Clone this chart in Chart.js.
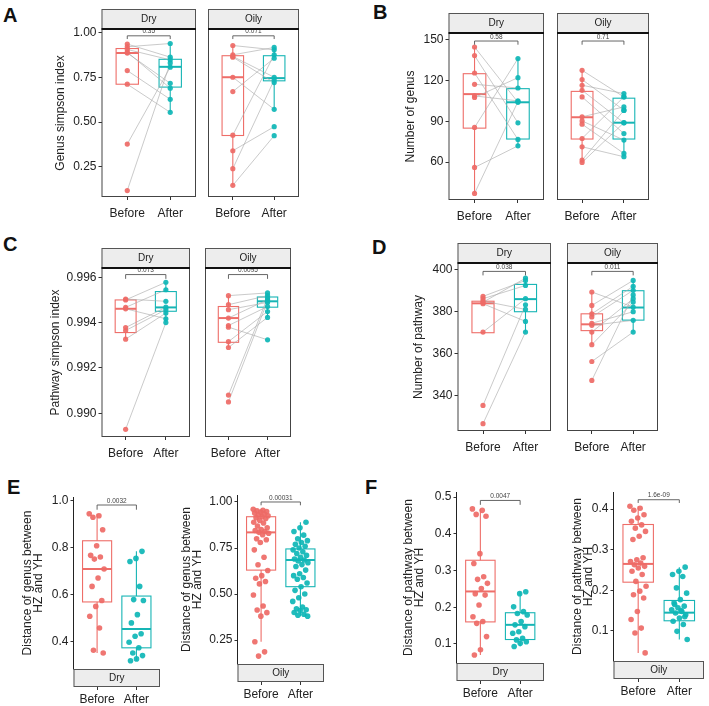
<!DOCTYPE html>
<html>
<head>
<meta charset="utf-8">
<script src="https://cdn.jsdelivr.net/npm/chart.js@4.4.1/dist/chart.umd.min.js"></script>
<style>
body { margin: 0; background: #fff; }
#fig { position: relative; width: 709px; height: 706px; overflow: hidden; font-family: "Liberation Sans", Arial, sans-serif; }
#fig canvas { position: absolute; }
.tag { position: absolute; font-weight: bold; font-size: 20px; line-height: 1; color: #111; }
</style>
</head>
<body>
<div id="fig">
  <div class="tag" style="left:3px;top:5px">A</div>
  <div class="tag" style="left:373px;top:2px">B</div>
  <div class="tag" style="left:3px;top:234px">C</div>
  <div class="tag" style="left:372px;top:237px">D</div>
  <div class="tag" style="left:7px;top:477px">E</div>
  <div class="tag" style="left:365px;top:477px">F</div>
</div>
<script>
const groups = ['Before', 'After'];

// A - genus simpson index, paired samples
const aDryBefore  = [0.935, 0.92, 0.905, 0.89, 0.885, 0.787, 0.711, 0.377, 0.118];
const aDryAfter   = [0.862, 0.938, 0.847, 0.689, 0.716, 0.627, 0.554, 0.806, 0.830];
const aOilyBefore = [0.927, 0.875, 0.866, 0.862, 0.75, 0.67, 0.427, 0.34, 0.24, 0.147];
const aOilyAfter  = [0.903, 0.916, 0.75, 0.72, 0.571, 0.856, 0.875, 0.474, 0.735, 0.424];
const aDryBox  = [[0.711, 0.711, 0.885, 0.91, 0.935], [0.554, 0.695, 0.808, 0.85, 0.938]];
const aOilyBox = [[0.147, 0.425, 0.75, 0.87, 0.927], [0.571, 0.73, 0.745, 0.87, 0.916]];
const aTicks = [0.25, 0.5, 0.75, 1.0];
const aTickLabels = ['0.25', '0.50', '0.75', '1.00'];

// B - number of genus
const bDryBefore  = [144.6, 138.3, 125.5, 117.2, 108.7, 107.5, 85.5, 56.1, 37.0];
const bDryAfter   = [104, 88.9, 76.7, 114.5, 105, 122.1, 136.1, 72, 104.5];
const bOilyBefore = [127.5, 120.7, 116.5, 112.8, 107.9, 93.3, 90.3, 87.9, 77.4, 71.3, 61.5, 59.8];
const bOilyAfter  = [107.9, 98.2, 110.4, 88.9, 81, 100.6, 76.2, 66.4, 108, 64, 98, 89];
const bDryBox  = [[37, 85, 110, 125, 144.6], [72, 77, 104, 114, 136.1]];
const bOilyBox = [[59.8, 77, 93, 112, 127.5], [64, 77, 89, 107, 110.4]];
const bTicks = [60, 90, 120, 150];
const bTickLabels = ['60', '90', '120', '150'];

// C - pathway simpson index
const cDryBefore  = [0.99504, 0.99500, 0.99467, 0.99461, 0.99378, 0.99365, 0.99327, 0.98929];
const cDryAfter   = [0.99494, 0.99578, 0.99545, 0.99417, 0.99468, 0.99457, 0.99442, 0.99400];
const cOilyBefore = [0.99519, 0.99479, 0.99457, 0.99420, 0.99387, 0.99380, 0.99316, 0.99290, 0.99080, 0.99050];
const cOilyAfter  = [0.99531, 0.99519, 0.99489, 0.99501, 0.99471, 0.99324, 0.99449, 0.99423, 0.99510, 0.99495];
const cDryBox  = [[0.99327, 0.99356, 0.99461, 0.99500, 0.99504], [0.99400, 0.99450, 0.99467, 0.99537, 0.99578]];
const cOilyBox = [[0.99290, 0.99313, 0.99420, 0.99471, 0.99519], [0.99423, 0.99468, 0.99494, 0.99513, 0.99531]];
const cTicks = [0.990, 0.992, 0.994, 0.996];
const cTickLabels = ['0.990', '0.992', '0.994', '0.996'];

// D - number of pathway
const dDryBefore  = [387.3, 386.2, 385.1, 383.8, 384.5, 370.3, 335.4, 326.7];
const dDryAfter   = [394.9, 392.5, 381.1, 375.4, 396, 386.2, 383.3, 370.3];
const dOilyBefore = [389.4, 383, 379, 377.5, 373.5, 370.3, 364.3, 356.3, 347.3, 374.5];
const dOilyAfter  = [382.2, 394.9, 392.1, 390.2, 375.9, 386.2, 384.6, 370.3, 388, 380];
const dDryBox  = [[370, 370, 384, 385, 387.3], [370.3, 380, 386, 393, 396]];
const dOilyBox = [[364.3, 371, 374, 379, 389.4], [370.3, 376, 382, 390, 394.9]];
const dTicks = [340, 360, 380, 400];
const dTickLabels = ['340', '360', '380', '400'];

// E - distance of genus between HZ and YH
const eDryBefore = [0.945, 0.936, 0.93, 0.877, 0.809, 0.768, 0.761, 0.752, 0.71, 0.672, 0.636, 0.576, 0.551, 0.509, 0.459, 0.365, 0.353];
const eDryAfter  = [0.785, 0.755, 0.742, 0.636, 0.58, 0.576, 0.516, 0.481, 0.435, 0.424, 0.399, 0.375, 0.353, 0.342, 0.328, 0.32];
const eOilyBefore = [0.96, 0.955, 0.952, 0.948, 0.945, 0.94, 0.935, 0.93, 0.925, 0.92, 0.915, 0.91, 0.9, 0.89, 0.886, 0.87, 0.86, 0.85, 0.845, 0.84, 0.835, 0.83, 0.822, 0.8, 0.795, 0.78, 0.74, 0.70, 0.659, 0.628, 0.6, 0.586, 0.568, 0.555, 0.495, 0.435, 0.413, 0.399, 0.38, 0.241, 0.186, 0.163];
const eOilyAfter  = [0.89, 0.86, 0.84, 0.82, 0.80, 0.79, 0.78, 0.77, 0.76, 0.75, 0.74, 0.73, 0.72, 0.71, 0.70, 0.69, 0.685, 0.68, 0.67, 0.66, 0.65, 0.63, 0.61, 0.60, 0.59, 0.58, 0.56, 0.54, 0.52, 0.50, 0.48, 0.46, 0.43, 0.42, 0.415, 0.41, 0.40, 0.39, 0.385, 0.38];
const eDryBox  = [[0.353, 0.57, 0.71, 0.83, 0.945], [0.32, 0.375, 0.455, 0.595, 0.785]];
const eOilyBox = [[0.241, 0.63, 0.835, 0.92, 0.96], [0.38, 0.54, 0.685, 0.745, 0.89]];
const eDryTicks = [0.4, 0.6, 0.8, 1.0];
const eDryTickLabels = ['0.4', '0.6', '0.8', '1.0'];
const eOilyTicks = [0.25, 0.5, 0.75, 1.0];
const eOilyTickLabels = ['0.25', '0.50', '0.75', '1.00'];

// F - distance of pathway between HZ and YH
const fDryBefore = [0.468, 0.464, 0.453, 0.448, 0.346, 0.319, 0.283, 0.276, 0.265, 0.251, 0.237, 0.233, 0.206, 0.174, 0.161, 0.156, 0.12, 0.084, 0.07];
const fDryAfter  = [0.242, 0.237, 0.201, 0.188, 0.183, 0.179, 0.161, 0.152, 0.147, 0.133, 0.129, 0.115, 0.111, 0.106, 0.102, 0.093];
const fOilyBefore = [0.407, 0.402, 0.397, 0.386, 0.378, 0.37, 0.361, 0.353, 0.345, 0.333, 0.325, 0.28, 0.275, 0.271, 0.267, 0.263, 0.259, 0.255, 0.247, 0.239, 0.222, 0.21, 0.198, 0.189, 0.181, 0.148, 0.128, 0.107, 0.095, 0.046];
const fOilyAfter  = [0.257, 0.247, 0.239, 0.234, 0.206, 0.193, 0.177, 0.169, 0.161, 0.157, 0.152, 0.148, 0.144, 0.14, 0.132, 0.124, 0.116, 0.099, 0.079, 0.15, 0.165, 0.135];
const fDryBox  = [[0.07, 0.16, 0.243, 0.328, 0.468], [0.093, 0.112, 0.152, 0.185, 0.242]];
const fOilyBox = [[0.046, 0.22, 0.265, 0.362, 0.407], [0.079, 0.125, 0.145, 0.175, 0.257]];
const fDryTicks = [0.1, 0.2, 0.3, 0.4, 0.5];
const fDryTickLabels = ['0.1', '0.2', '0.3', '0.4', '0.5'];
const fOilyTicks = [0.1, 0.2, 0.3, 0.4];
const fOilyTickLabels = ['0.1', '0.2', '0.3', '0.4'];

const RED = 'rgba(238,106,102,0.92)';
const TEAL = 'rgba(14,182,182,0.92)';
const boxColors = ['#EE6E69', '#17B5B5'];
const FONT = '"Liberation Sans", Arial, sans-serif';
Chart.defaults.font.family = FONT;
Chart.defaults.animation = false;

const eTitle = ['Distance of genus between', 'HZ and YH'];
const fTitle = ['Distance of pathway between', 'HZ and YH'];

// area = [left, top, width, height] of each plot panel in page pixels
const panels = [
  { area: [101, 29, 99, 168], strip: 'Dry', top: true, paired: true, b: aDryBefore, a: aDryAfter, box: aDryBox, ymin: 0.082, ymax: 1.019, ticks: aTicks, labels: aTickLabels, p: '0.35', br: [0.981, 0.963], title: 'Genus simpson index', titleX: 60 },
  { area: [204, 29, 99, 168], strip: 'Oily', top: true, paired: true, b: aOilyBefore, a: aOilyAfter, box: aOilyBox, ymin: 0.082, ymax: 1.019, ticks: aTicks, labels: aTickLabels, p: '0.071', br: [0.981, 0.963] },
  { area: [448, 33, 100, 167], strip: 'Dry', top: true, paired: true, b: bDryBefore, a: bDryAfter, box: bDryBox, ymin: 32.2, ymax: 154.9, ticks: bTicks, labels: bTickLabels, p: '0.58', br: [149, 146.3], title: 'Number of genus', titleX: 410 },
  { area: [553, 33, 100, 167], strip: 'Oily', top: true, paired: true, b: bOilyBefore, a: bOilyAfter, box: bOilyBox, ymin: 32.2, ymax: 154.9, ticks: bTicks, labels: bTickLabels, p: '0.71', br: [149, 146.3] },
  { area: [101, 268, 93, 169], strip: 'Dry', top: true, paired: true, b: cDryBefore, a: cDryAfter, box: cDryBox, ymin: 0.98895, ymax: 0.99641, ticks: cTicks, labels: cTickLabels, p: '0.073', br: [0.99612, 0.99593], title: 'Pathway simpson index', titleX: 55 },
  { area: [201, 268, 94, 169], strip: 'Oily', top: true, paired: true, b: cOilyBefore, a: cOilyAfter, box: cOilyBox, ymin: 0.98895, ymax: 0.99641, ticks: cTicks, labels: cTickLabels, p: '0.0095', br: [0.99612, 0.99593] },
  { area: [457, 263, 98, 168], strip: 'Dry', top: true, paired: true, b: dDryBefore, a: dDryAfter, box: dDryBox, ymin: 323.2, ymax: 403.2, ticks: dTicks, labels: dTickLabels, p: '0.038', br: [399.2, 397.3], title: 'Number of pathway', titleX: 418 },
  { area: [563, 263, 99, 168], strip: 'Oily', top: true, paired: true, b: dOilyBefore, a: dOilyAfter, box: dOilyBox, ymin: 323.2, ymax: 403.2, ticks: dTicks, labels: dTickLabels, p: '0.011', br: [399.2, 397.3] },
  { area: [73, 497, 91, 172], strip: 'Dry', top: false, b: eDryBefore, a: eDryAfter, box: eDryBox, ymin: 0.285, ymax: 1.016, ticks: eDryTicks, labels: eDryTickLabels, p: '0.0032', br: [0.982, 0.962], title: eTitle, titleX: 27 },
  { area: [237, 495, 91, 169], strip: 'Oily', top: false, b: eOilyBefore, a: eOilyAfter, box: eOilyBox, ymin: 0.12, ymax: 1.038, ticks: eOilyTicks, labels: eOilyTickLabels, p: '0.00031', br: [1.0, 0.982], title: eTitle, titleX: 186 },
  { area: [456, 492, 92, 171], strip: 'Dry', top: false, b: fDryBefore, a: fDryAfter, box: fDryBox, ymin: 0.048, ymax: 0.514, ticks: fDryTicks, labels: fDryTickLabels, p: '0.0047', br: [0.491, 0.479], title: fTitle, titleX: 408 },
  { area: [613, 492, 95, 169], strip: 'Oily', top: false, b: fOilyBefore, a: fOilyAfter, box: fOilyBox, ymin: 0.026, ymax: 0.442, ticks: fOilyTicks, labels: fOilyTickLabels, p: '1.6e-09', br: [0.423, 0.415], title: fTitle, titleX: 577 }
];

// boxes, brackets, panel border and facet strip
const decoPlugin = {
  id: 'deco',
  beforeDatasetsDraw(chart, args, o) {
    const { ctx, scales: { x, y } } = chart;
    ctx.save();
    o.box.forEach((b, i) => {
      const xc = x.getPixelForValue(i + 1);
      const hw = x.getPixelForValue(i + 1 + o.half) - xc;
      const [lo, q1, med, q3, hi] = b.map(v => y.getPixelForValue(v));
      ctx.strokeStyle = boxColors[i];
      ctx.lineWidth = 1.1;
      ctx.beginPath();
      ctx.moveTo(xc, lo); ctx.lineTo(xc, q1);
      ctx.moveTo(xc, q3); ctx.lineTo(xc, hi);
      ctx.stroke();
      ctx.strokeRect(xc - hw, q3, 2 * hw, q1 - q3);
      ctx.lineWidth = 2;
      ctx.beginPath();
      ctx.moveTo(xc - hw, med); ctx.lineTo(xc + hw, med);
      ctx.stroke();
    });
    ctx.restore();
  },
  afterDraw(chart, args, o) {
    const { ctx, chartArea: a, scales: { x, y } } = chart;
    ctx.save();
    const x1 = x.getPixelForValue(1), x2 = x.getPixelForValue(2);
    const yb = y.getPixelForValue(o.br[0]), yl = y.getPixelForValue(o.br[1]);
    ctx.strokeStyle = '#555';
    ctx.lineWidth = 0.9;
    ctx.beginPath();
    ctx.moveTo(x1, yl); ctx.lineTo(x1, yb); ctx.lineTo(x2, yb); ctx.lineTo(x2, yl);
    ctx.stroke();
    ctx.fillStyle = '#444';
    ctx.font = '6.5px ' + FONT;
    ctx.textAlign = 'center';
    ctx.textBaseline = 'bottom';
    ctx.fillText(o.p, (x1 + x2) / 2, yb - 1);

    const sh = o.stripH;
    const sy = o.top ? a.top - sh : a.bottom;
    ctx.fillStyle = '#ededed';
    ctx.fillRect(a.left, sy, a.right - a.left, sh);
    ctx.strokeStyle = '#555';
    ctx.lineWidth = 1;
    ctx.strokeRect(a.left + 0.5, sy + 0.5, a.right - a.left - 1, sh - 1);
    if (o.top) {
      ctx.strokeStyle = '#444';
      ctx.strokeRect(a.left + 0.5, a.top + 0.5, a.right - a.left - 1, a.bottom - a.top - 1);
      ctx.strokeStyle = '#111';
      ctx.lineWidth = 2;
      ctx.beginPath();
      ctx.moveTo(a.left, a.top); ctx.lineTo(a.right, a.top);
      ctx.stroke();
    }
    ctx.fillStyle = '#222';
    ctx.font = '10px ' + FONT;
    ctx.textBaseline = 'middle';
    ctx.fillText(o.strip, (a.left + a.right) / 2, sy + sh / 2 + 0.5);
    ctx.restore();
  }
};

const fig = document.getElementById('fig');

function jitter(i) {
  return (((i * 0.618034) % 1) - 0.5) * 0.4;
}

panels.forEach(p => {
  const [L, T, W, H] = p.area;
  const lh = 11;
  const yW = p.title ? L - (p.titleX - lh / 2) : 0;
  const stripH = p.top ? 20 : 18;
  const topPad = p.top ? stripH + 1 : 10;
  const xH = p.top ? 28 : 44;
  const cv = document.createElement('canvas');
  cv.width = yW + W;
  cv.height = topPad + H + xH;
  cv.style.left = (L - yW) + 'px';
  cv.style.top = (T - topPad) + 'px';
  fig.appendChild(cv);

  const r = p.top ? 2.6 : 2.8;
  const datasets = [
    { data: p.b.map((v, i) => ({ x: 1 + (p.paired ? 0 : jitter(i)), y: v })), backgroundColor: RED, borderWidth: 0, pointRadius: r, order: 1 },
    { data: p.a.map((v, i) => ({ x: 2 + (p.paired ? 0 : jitter(i + 3)), y: v })), backgroundColor: TEAL, borderWidth: 0, pointRadius: r, order: 1 }
  ];
  if (p.paired) {
    const pairs = [];
    p.b.forEach((v, i) => {
      pairs.push({ x: 1, y: v }, { x: 2, y: p.a[i] }, { x: 2, y: null });
    });
    datasets.push({ data: pairs, showLine: true, spanGaps: false, borderColor: 'rgba(170,170,170,0.7)', borderWidth: 0.9, pointRadius: 0, order: 3 });
  }

  new Chart(cv, {
    type: 'scatter',
    data: { datasets },
    options: {
      responsive: false,
      animation: false,
      layout: { padding: { top: topPad, left: 0, right: 0, bottom: 0 } },
      plugins: {
        legend: { display: false },
        tooltip: { enabled: false },
        deco: { box: p.box, half: p.top ? 0.26 : 0.37, br: p.br, p: p.p, strip: p.strip, top: p.top, stripH }
      },
      scales: {
        x: {
          type: 'linear', min: 0.4, max: 2.6,
          afterBuildTicks: s => { s.ticks = [{ value: 1 }, { value: 2 }]; },
          afterFit: s => { s.height = xH; },
          border: { display: false },
          grid: { drawOnChartArea: false, drawTicks: true, tickLength: p.top ? 3 : stripH + 3, color: '#333' },
          ticks: { autoSkip: false, maxRotation: 0, padding: p.top ? 6 : 2, color: '#222', font: { size: 12 },
                   callback: (v) => groups[Math.round(v) - 1] }
        },
        y: {
          display: !!p.title,
          min: p.ymin, max: p.ymax,
          afterBuildTicks: s => { s.ticks = p.ticks.map(v => ({ value: v })); },
          afterFit: s => { s.width = yW; },
          border: { display: !p.top, color: '#222', width: 1 },
          grid: { drawOnChartArea: false, drawTicks: true, tickLength: 3, color: '#333' },
          ticks: { autoSkip: false, padding: 2, color: '#222', font: { size: 12 },
                   callback: (v, i) => p.labels[i] },
          title: { display: !!p.title, text: p.title, color: '#222', padding: { top: 0, bottom: 0 },
                   font: { size: 12, lineHeight: lh / 12 } }
        }
      }
    },
    plugins: [decoPlugin]
  });
});
</script>
</body>
</html>
